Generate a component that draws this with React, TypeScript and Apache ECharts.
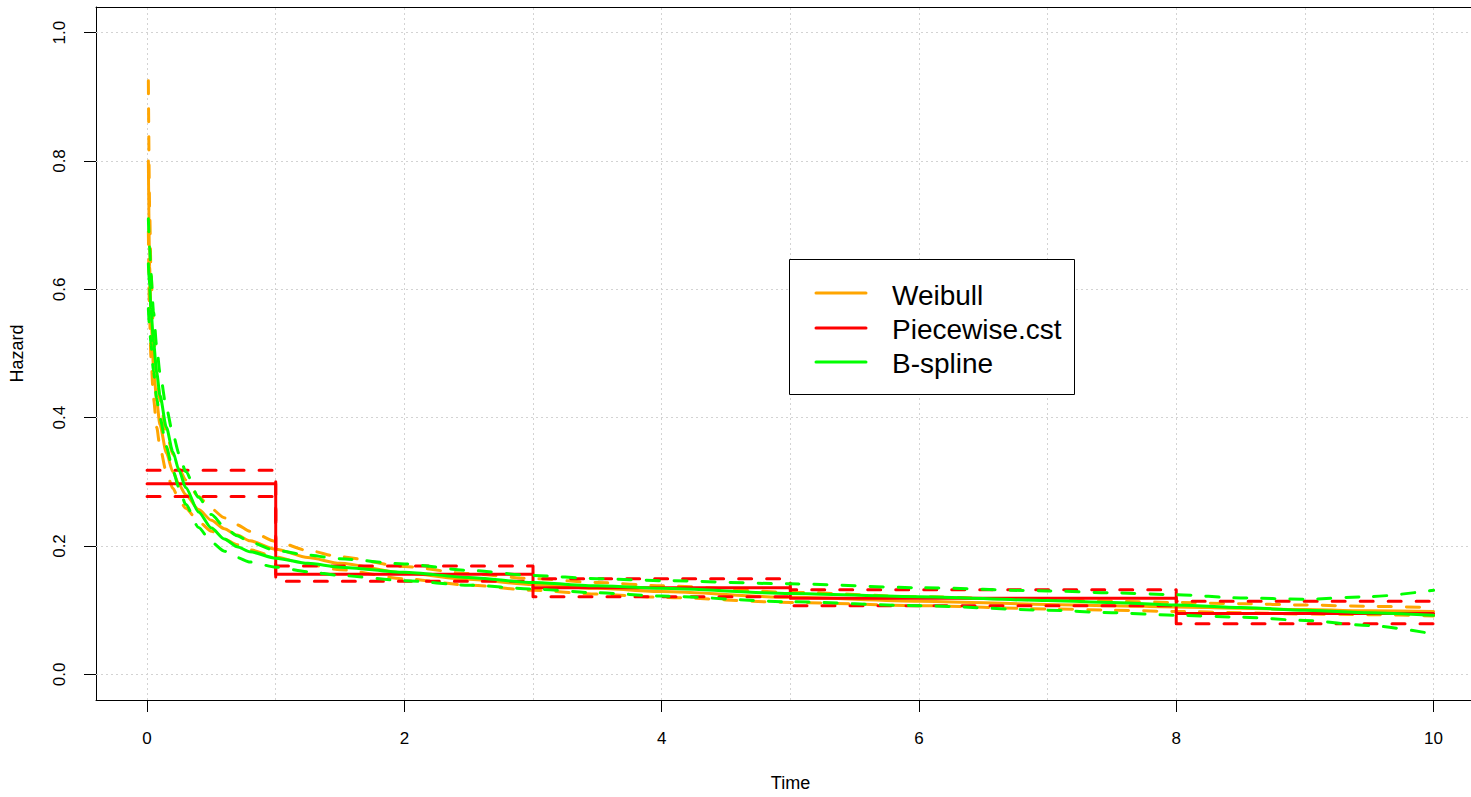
import React, { useEffect, useRef } from "react";
import * as echarts from "echarts";

// ---- data ----
const TIME = [0.01, 0.02, 0.03, 0.05, 0.075, 0.1, 0.15, 0.2, 0.25, 0.3, 0.4, 0.5, 0.6, 0.7, 0.8, 1, 1.25, 1.5, 2, 2.5, 3, 3.5, 4, 5, 6, 7, 7.5, 8, 8.5, 9, 9.5, 10];

const WEIBULL = [0.8, 0.635, 0.56, 0.48, 0.425, 0.389, 0.345, 0.316, 0.295, 0.28, 0.257, 0.24, 0.227, 0.217, 0.208, 0.195, 0.182, 0.173, 0.158, 0.148, 0.14, 0.134, 0.129, 0.12, 0.114, 0.109, 0.107, 0.105, 0.103, 0.101, 0.099, 0.098];
const WEIBULL_UPPER = [0.925, 0.725, 0.63, 0.535, 0.47, 0.428, 0.377, 0.343, 0.32, 0.303, 0.277, 0.258, 0.244, 0.233, 0.223, 0.207, 0.193, 0.183, 0.168, 0.157, 0.149, 0.143, 0.138, 0.128, 0.121, 0.116, 0.114, 0.112, 0.11, 0.108, 0.106, 0.104];
const WEIBULL_LOWER = [0.69, 0.555, 0.495, 0.43, 0.385, 0.354, 0.315, 0.29, 0.272, 0.259, 0.238, 0.223, 0.211, 0.202, 0.194, 0.183, 0.171, 0.163, 0.149, 0.139, 0.131, 0.125, 0.12, 0.112, 0.107, 0.102, 0.1, 0.098, 0.096, 0.094, 0.093, 0.091];

const BSPLINE = [0.64, 0.603, 0.57, 0.518, 0.47, 0.435, 0.385, 0.347, 0.317, 0.291, 0.253, 0.228, 0.211, 0.199, 0.191, 0.181, 0.173, 0.167, 0.159, 0.151, 0.143, 0.138, 0.134, 0.126, 0.121, 0.115, 0.112, 0.108, 0.104, 0.1, 0.096, 0.092];
const BSPLINE_UPPER = [0.71, 0.665, 0.625, 0.565, 0.51, 0.47, 0.415, 0.375, 0.343, 0.316, 0.276, 0.249, 0.23, 0.216, 0.206, 0.193, 0.186, 0.18, 0.172, 0.162, 0.154, 0.149, 0.146, 0.141, 0.135, 0.13, 0.127, 0.124, 0.119, 0.117, 0.121, 0.131];
const BSPLINE_LOWER = [0.57, 0.54, 0.515, 0.472, 0.43, 0.4, 0.355, 0.318, 0.29, 0.265, 0.229, 0.206, 0.192, 0.182, 0.175, 0.167, 0.16, 0.154, 0.146, 0.139, 0.133, 0.127, 0.122, 0.113, 0.107, 0.1, 0.096, 0.092, 0.089, 0.084, 0.076, 0.063];

const PW_BREAKS = [0, 1, 3, 5, 8, 10];
const PIECEWISE = [0.297, 0.156, 0.135, 0.1185, 0.095];
const PIECEWISE_UPPER = [0.318, 0.169, 0.149, 0.132, 0.114];
const PIECEWISE_LOWER = [0.277, 0.145, 0.121, 0.107, 0.079];

const X_TICKS = [0, 2, 4, 6, 8, 10];
const Y_TICKS = [0, 0.2, 0.4, 0.6, 0.8, 1.0];
const X_GRID = [0, 1, 2, 3, 4, 5, 6, 7, 8, 9, 10];

const LEGEND_NAMES = ["Weibull", "Piecewise.cst", "B-spline"];

const ORANGE = "#FFA500";
const RED = "#FF0000";
const GREEN = "#00FF00";
const FONT = "'Liberation Sans', Arial, sans-serif";

export default function App() {
  const ref = useRef<HTMLDivElement>(null);

  useEffect(() => {
    document.documentElement.style.overflow = "hidden";
    document.body.style.margin = "0";
    document.body.style.overflow = "hidden";
    const chart = echarts.init(ref.current as HTMLDivElement, undefined, { renderer: "svg" });

    const pair = (vals: number[]) => TIME.map((t, i) => [t, vals[i]]);
    const step = (vals: number[]) => PW_BREAKS.map((b, i) => [b, vals[Math.min(i, vals.length - 1)]]);
    const dash = [13, 15];

    const mk = (name: string, data: number[][], color: string, dashed: boolean, isStep = false) => ({
      type: "line",
      name,
      data,
      symbol: "none",
      showSymbol: false,
      silent: true,
      z: 3,
      clip: true,
      step: isStep ? "end" : false,
      smooth: isStep ? false : 0.25,
      smoothMonotone: "x",
      lineStyle: { color, width: 3, type: dashed ? dash : "solid", cap: "round", join: "round" },
    });

    const gridStyle = { color: "#D3D3D3", width: 1, type: [2, 3] };
    const boxLine = { show: true, onZero: false, lineStyle: { color: "#000", width: 1 } };

    const legendColors = [ORANGE, RED, GREEN];
    const legendY = [293, 328, 362];
    const legendTextY = [295, 329, 363];

    const graphic: any[] = [
      {
        type: "rect",
        z: 100,
        shape: { x: 789.5, y: 259.5, width: 285, height: 135 },
        style: { fill: "#fff", stroke: "#000", lineWidth: 1 },
      },
    ];
    LEGEND_NAMES.forEach((n, i) => {
      graphic.push({
        type: "line",
        z: 101,
        shape: { x1: 816, y1: legendY[i], x2: 866, y2: legendY[i] },
        style: { stroke: legendColors[i], lineWidth: 3, lineCap: "round" },
      });
      graphic.push({
        type: "text",
        z: 101,
        x: 892,
        y: legendTextY[i],
        style: { text: n, fontSize: 28, fontFamily: FONT, fill: "#000", verticalAlign: "middle", align: "left" },
      });
    });

    const X_MIN = -0.397;
    const X_MAX = 10.4;

    chart.setOption({
      animation: false,
      backgroundColor: "#fff",
      grid: { left: 96, right: 0, top: 7, bottom: 91, show: false, containLabel: false },
      xAxis: [
        {
          type: "value",
          min: X_MIN,
          max: X_MAX,
          position: "bottom",
          axisLine: boxLine,
          splitLine: { show: false },
          axisTick: { show: true, customValues: X_TICKS, length: 12, lineStyle: { color: "#000" } },
          axisLabel: { customValues: X_TICKS, margin: 30, fontSize: 17, color: "#000", fontFamily: FONT },
          name: "Time",
          nameLocation: "middle",
          nameGap: 74,
          nameTextStyle: { fontSize: 18, color: "#000", fontFamily: FONT },
        },
        {
          type: "value",
          min: X_MIN,
          max: X_MAX,
          position: "top",
          axisLine: boxLine,
          splitLine: { show: false },
          axisTick: { show: false },
          axisLabel: { show: false },
        },
      ],
      yAxis: {
        type: "value",
        min: -0.04,
        max: 1.04,
        axisLine: boxLine,
        splitLine: { show: false },
        axisTick: { show: true, customValues: Y_TICKS, length: 12, lineStyle: { color: "#000" } },
        axisLabel: {
          customValues: Y_TICKS,
          rotate: 90,
          margin: 28,
          fontSize: 17,
          color: "#000",
          fontFamily: FONT,
          formatter: (v: number) => v.toFixed(1),
        },
        name: "Hazard",
        nameLocation: "middle",
        nameRotate: 90,
        nameGap: 70,
        nameTextStyle: { fontSize: 18, color: "#000", fontFamily: FONT },
      },
      series: [
        {
          type: "line",
          name: "grid",
          data: [],
          silent: true,
          z: 1,
          markLine: {
            silent: true,
            z: 1,
            symbol: ["none", "none"],
            label: { show: false },
            lineStyle: gridStyle,
            emphasis: { disabled: true },
            data: [
              ...X_GRID.map((x) => ({ xAxis: x })),
              ...Y_TICKS.map((y) => ({ yAxis: y })),
            ],
          },
        },
        mk("Weibull", pair(WEIBULL), ORANGE, false),
        mk("Weibull upper", pair(WEIBULL_UPPER), ORANGE, true),
        mk("Weibull lower", pair(WEIBULL_LOWER), ORANGE, true),
        mk("Piecewise.cst", step(PIECEWISE), RED, false, true),
        mk("Piecewise.cst upper", step(PIECEWISE_UPPER), RED, true, true),
        mk("Piecewise.cst lower", step(PIECEWISE_LOWER), RED, true, true),
        mk("B-spline", pair(BSPLINE), GREEN, false),
        mk("B-spline upper", pair(BSPLINE_UPPER), GREEN, true),
        mk("B-spline lower", pair(BSPLINE_LOWER), GREEN, true),
      ],
      graphic,
    });

    return () => {
      chart.dispose();
    };
  }, []);

  return (
    <div style={{ width: 1471, height: 797, overflow: "hidden", position: "relative" }}>
      <div ref={ref} style={{ width: 1485, height: 797 }} />
    </div>
  );
}
